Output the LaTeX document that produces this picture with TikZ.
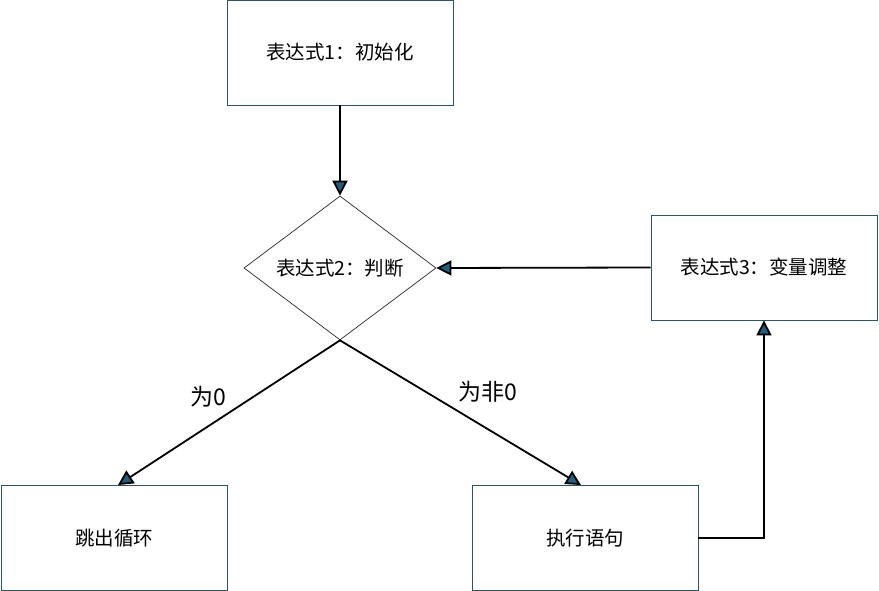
\documentclass[tikz,border=0pt]{standalone}
\usepackage{fontspec}
\setmainfont{Noto Sans CJK SC}
\usetikzlibrary{arrows.meta,shapes.geometric}
\definecolor{boxline}{HTML}{2E5266}
\definecolor{tipfill}{HTML}{1F5F80}
\begin{document}
\begin{tikzpicture}[x=1pt,y=-1pt,
  procbox/.style={draw=boxline,line width=0.9pt,minimum width=226pt,minimum height=105pt,inner sep=0pt,font=\fontsize{19.5}{22}\selectfont},
  decide/.style={draw=black!85,line width=0.7pt,shape=diamond,minimum width=192pt,minimum height=144pt,inner sep=0pt,aspect=1.333,font=\fontsize{19.5}{22}\selectfont},
  flow/.style={line width=1.8pt,-{Triangle[length=15pt,width=15pt,fill=tipfill]}},
  lbl/.style={font=\fontsize{23}{26}\selectfont}]
\useasboundingbox (0,0) rectangle (879,591);
\node[procbox] (init) at (340,52.5) {表达式1：初始化};
\node[decide] (cond) at (340,268) {表达式2：判断};
\node[procbox] (upd) at (764,267.5) {表达式3：变量调整};
\node[procbox] (quit) at (114,538) {跳出循环};
\node[procbox] (exec) at (585,538) {执行语句};
\coordinate (corner) at (764,538);
\draw[flow] (init.south) -- (cond.north);
\draw[flow] (upd.west) -- (cond.east);
\draw[flow] (cond.south) -- ([xshift=4pt]quit.north);
\draw[flow] (cond.south) -- ([xshift=-4pt]exec.north);
\draw[flow] (exec.east) -- (corner) -- (upd.south);
\node[lbl] (l0) at (208,397) {为0};
\node[lbl] (l1) at (488,392) {为非0};
\end{tikzpicture}
\end{document}
